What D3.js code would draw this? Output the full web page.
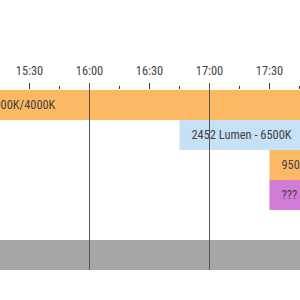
<!DOCTYPE html>
<html>
<head>
<meta charset="utf-8">
<script src="https://cdn.jsdelivr.net/npm/d3@7"></script>
<style>
  html, body { margin: 0; padding: 0; background: #fff; }
  svg { display: block; font-family: "Roboto Condensed", "Liberation Sans", sans-serif; }
</style>
</head>
<body>
<svg width="300" height="300"></svg>
<script>
'use strict';

// rows of the timeline (top to bottom)
var rows = ["r0", "r1", "r2", "r3", "r4", "r5"];
var labels = ["1650 Lumen - 3000K/4000K", "2452 Lumen - 6500K", "950, 2700K", "??? Lumen", "", ""];
var starts = ["14:29", "16:45", "17:30", "17:30", null, "14:00"];
var ends   = ["18:30", "18:30", "18:30", "18:30", null, "18:30"];
var colors = ["#fdb863", "#c6e0f6", "#fdb863", "#d17bd6", null, "#a6a6a6"];

var parseTime = d3.timeParse("%H:%M");

var svg = d3.select("svg");

var x = d3.scaleTime()
    .domain([parseTime("15:15"), parseTime("17:45")])
    .range([-0.5, 299.5]);

var y = d3.scaleBand()
    .domain(rows)
    .range([90, 270])
    .paddingInner(0);

var bars = rows.map(function(r, i) {
  return { row: r, label: labels[i], start: starts[i], end: ends[i], color: colors[i] };
}).filter(function(d) { return d.start; });

// bars
svg.append("g").selectAll("rect")
    .data(bars)
    .enter().append("rect")
    .attr("x", function(d) { return x(parseTime(d.start)); })
    .attr("y", function(d) { return y(d.row); })
    .attr("width", function(d) { return x(parseTime(d.end)) - x(parseTime(d.start)); })
    .attr("height", y.bandwidth())
    .attr("fill", function(d) { return d.color; });

svg.append("g").selectAll("text")
    .data(bars)
    .enter().append("text")
    .attr("x", function(d) { return x(parseTime(d.start)) + 12; })
    .attr("y", function(d) { return y(d.row) + y.bandwidth() / 2; })
    .attr("dy", "0.36em")
    .attr("font-size", 12.4)
    .attr("fill", "#444")
    .text(function(d) { return d.label; });

// axis on top: minor ticks every 15 min, labels every 30
var axisY = 89;
var minor = x.ticks(d3.timeMinute.every(15));
var major = x.ticks(d3.timeMinute.every(30));

var axis = svg.append("g").attr("class", "xaxis");
axis.selectAll(".minor")
    .data(minor)
    .enter().append("line")
    .attr("x1", function(d) { return x(d); })
    .attr("x2", function(d) { return x(d); })
    .attr("y1", axisY - 3)
    .attr("y2", axisY)
    .attr("stroke", "#333");

axis.selectAll(".major")
    .data(major)
    .enter().append("line")
    .attr("x1", function(d) { return x(d); })
    .attr("x2", function(d) { return x(d); })
    .attr("y1", axisY - 6)
    .attr("y2", axisY)
    .attr("stroke", "#333");

axis.selectAll("text")
    .data(major)
    .enter().append("text")
    .attr("x", function(d) { return x(d); })
    .attr("y", 75)
    .attr("text-anchor", "middle")
    .attr("font-size", 12.4)
    .attr("fill", "#444")
    .text(d3.timeFormat("%H:%M"));

// hour lines over the bars
svg.append("g").selectAll("line")
    .data(x.ticks(d3.timeHour.every(1)))
    .enter().append("line")
    .attr("x1", function(d) { return x(d); })
    .attr("x2", function(d) { return x(d); })
    .attr("y1", axisY - 6)
    .attr("y2", 270)
    .attr("stroke", "#555")
    .attr("stroke-width", 1);
</script>
</body>
</html>
